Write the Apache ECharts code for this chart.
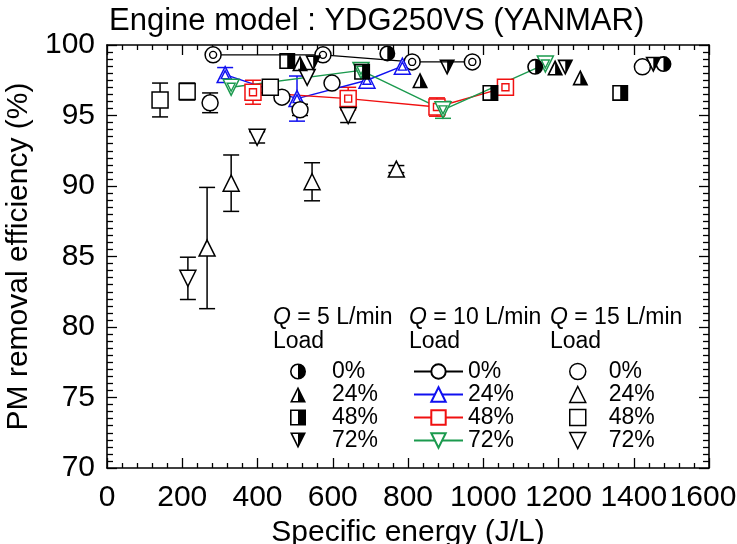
<!DOCTYPE html>
<html><head><meta charset="utf-8">
<script src="https://cdn.jsdelivr.net/npm/echarts@6/dist/echarts.min.js"></script>
<style>html,body{margin:0;padding:0;background:#fff}#c{width:737px;height:544px}</style>
</head><body><div id="c"></div>
<script>
// ---- tick labels ----
const xTicks = [0, 200, 400, 600, 800, 1000, 1200, 1400, 1600];
const yTicks = [70, 75, 80, 85, 90, 95, 100];
const loadLabels = ['0%', '24%', '48%', '72%'];

// ---- Q = 5 L/min (half-filled markers) ----
const q5_0  = [[745, 99.4], [1138, 98.45], [1479, 98.65]];
const q5_24 = [[513, 98.7], [832, 97.5], [1191, 98.4], [1258, 97.7]];
const q5_48 = [[479, 98.86], [678, 98.1], [1019, 96.6], [1364, 96.6]];
const q5_72 = [[548, 98.7], [904, 98.4], [1218, 98.4], [1452, 98.6]];

// ---- Q = 10 L/min (double markers with lines) ----
const q10_0  = [[282, 99.3], [574, 99.3], [811, 98.8], [971, 98.8]];
const q10_24 = [[314, 97.9], [505, 96.2], [691, 97.5], [785, 98.5]];
const q10_48 = [[388, 96.65], [641, 96.2], [877, 95.6], [1059, 97.0]];
const q10_72 = [[330, 97.0], [675, 98.2], [893, 95.4], [1165, 98.65]];
const q10_24_err = [0.5, 1.6, 0, 0];
const q10_48_err = [0.85, 0.8, 0.65, 0.35];
const q10_72_err = [0, 0, 0.6, 0];

// ---- Q = 15 L/min (hollow markers) ----
const q15_0  = [[274, 95.9], [465, 96.3], [513, 95.4], [598, 97.3], [1423, 98.45]];
const q15_24 = [[266, 85.6], [330, 90.2], [545, 90.3], [769, 91.2]];
const q15_48 = [[141, 96.1], [213, 96.7], [434, 97.0]];
const q15_72 = [[215, 83.45], [399, 93.45], [532, 97.7], [641, 95.0]];
const q15_0_err  = [0.7, 0, 0.4, 0, 0];
const q15_24_err = [4.3, 2.0, 1.35, 0.25];
const q15_48_err = [1.2, 0.6, 0];
const q15_72_err = [1.5, 0.4, 0, 0.5];

const FONT = "'Liberation Sans', Arial, Helvetica, sans-serif";
const BLUE = '#1010f0', RED = '#f01010', GREEN = '#1b9a4e';

// half-filled symbols (left hollow, right black)
const HALF_CIRCLE = 'path://M10,0A10,10,0,1,1,10,20A10,10,0,1,1,10,0ZM10,2A8,8,0,0,0,10,18Z';
const HALF_RECT = 'path://M0,0L20,0L20,20L0,20ZM2,2L2,18L10,18L10,2Z';
const HALF_TRI_UP = 'path://M10,0L20,20L0,20ZM10,4.47L3.24,18L10,18Z';
const HALF_TRI_DN = 'path://M0,0L20,0L10,20ZM3.24,2L10,15.53L10,2Z';
const TRI_DN = 'path://M0,0L20,0L10,20Z';

function errRender(color) {
  return function (params, api) {
    const x = api.value(0), y = api.value(1), e = api.value(2);
    const t = api.coord([x, y + e]), b = api.coord([x, y - e]);
    const w = 8;
    const st = { stroke: color, lineWidth: 1.5 };
    return { type: 'group', children: [
      { type: 'line', shape: { x1: t[0], y1: t[1], x2: b[0], y2: b[1] }, style: st },
      { type: 'line', shape: { x1: t[0] - w, y1: t[1], x2: t[0] + w, y2: t[1] }, style: st },
      { type: 'line', shape: { x1: b[0] - w, y1: b[1], x2: b[0] + w, y2: b[1] }, style: st }
    ]};
  };
}
function errSeries(pts, errs, color) {
  const d = [];
  pts.forEach((p, i) => { if (errs[i] > 0) d.push([p[0], p[1], errs[i]]); });
  return { type: 'custom', renderItem: errRender(color), data: d, z: 2, silent: true,
           encode: { x: 0, y: 1 } };
}

function halfSeries(name, data, symbol) {
  return { name, type: 'scatter', data, symbol, symbolSize: 16, z: 5,
           itemStyle: { color: '#000', borderWidth: 0, opacity: 1 } };
}
function hollowSeries(name, data, symbol) {
  return { name, type: 'scatter', data, symbol, symbolSize: 16, z: 4,
           itemStyle: { color: '#fff', borderColor: '#000', borderWidth: 1.5, opacity: 1 } };
}
function q10Series(name, data, symbol, rotate, color, innerSize) {
  return [
    { name, type: 'line', data, symbol, symbolSize: 16, symbolRotate: rotate || 0, z: 3,
      showSymbol: true, showAllSymbol: true,
      lineStyle: { color, width: 1.4 },
      itemStyle: { color: '#fff', borderColor: color, borderWidth: 1.5, opacity: 1 } },
    { name: name + ' inner', type: 'scatter', data, symbol, symbolSize: innerSize, symbolRotate: rotate || 0, z: 3,
      itemStyle: { color: '#fff', borderColor: color, borderWidth: 1.4, opacity: 1 } }
  ];
}

const axisCommon = {
  type: 'value',
  axisLine: { show: true, onZero: false, lineStyle: { color: '#000', width: 1.6 } },
  axisTick: { show: true, inside: true, length: 10, lineStyle: { color: '#000', width: 1.3 } },
  splitLine: { show: false }
};

const legendText = (pad) => ({ fontSize: 23, color: '#000', fontFamily: FONT, lineHeight: 20, padding: [0, 0, 0, pad] });
const xMax = xTicks[xTicks.length - 1];

const option = {
  animation: false,
  backgroundColor: '#fff',
  title: { text: 'Engine model : YDG250VS (YANMAR)', left: 104, top: 1,
           textStyle: { fontSize: 31, fontWeight: 'normal', color: '#000', fontFamily: FONT } },
  grid: { left: 107, right: 28, top: 45, bottom: 76, containLabel: false, outerBoundsMode: 'none' },
  xAxis: [
    Object.assign({}, axisCommon, {
      position: 'bottom', min: xTicks[0], max: xMax, interval: xTicks[1] - xTicks[0],
      minorTick: { show: true, splitNumber: 5, length: 5, lineStyle: { color: '#000', width: 1.3 } },
      axisLabel: { color: '#000', fontSize: 30, margin: 15, fontFamily: FONT,
        formatter: v => (v === xMax ? '{r|' + v + '}' : String(v)),
        rich: { r: { fontSize: 30, fontFamily: FONT, color: '#000', padding: [0, 12, 0, 0] } } },
      name: 'Specific energy (J/L)', nameLocation: 'middle', nameGap: 44,
      nameTextStyle: { fontSize: 30, color: '#000', fontFamily: FONT }
    }),
    Object.assign({}, axisCommon, {
      position: 'top', min: xTicks[0], max: xMax, interval: xTicks[1] - xTicks[0],
      minorTick: { show: true, splitNumber: 5, length: 5, lineStyle: { color: '#000', width: 1.3 } },
      axisLabel: { show: false }
    })
  ],
  yAxis: [
    Object.assign({}, axisCommon, {
      position: 'left', min: yTicks[0], max: yTicks[yTicks.length - 1], interval: yTicks[1] - yTicks[0],
      minorTick: { show: true, splitNumber: 10, length: 6, lineStyle: { color: '#000', width: 1.3 } },
      axisLabel: { color: '#000', fontSize: 30, margin: 12, fontFamily: FONT, formatter: v => String(v) },
      name: 'PM removal efficiency (%)', nameLocation: 'middle', nameGap: 66,
      nameTextStyle: { fontSize: 30, color: '#000', fontFamily: FONT }
    }),
    Object.assign({}, axisCommon, {
      position: 'right', min: yTicks[0], max: yTicks[yTicks.length - 1], interval: yTicks[1] - yTicks[0],
      minorTick: { show: true, splitNumber: 10, length: 6, lineStyle: { color: '#000', width: 1.3 } },
      axisLabel: { show: false }
    })
  ],
  legend: [
    { orient: 'vertical', left: 285, top: 355, itemWidth: 16, itemHeight: 16, itemGap: 0, selectedMode: false,
      data: ['Q5 0%', 'Q5 24%', 'Q5 48%', 'Q5 72%'], formatter: n => n.split(' ')[1],
      textStyle: legendText(21), itemStyle: { borderWidth: 0 } },
    { orient: 'vertical', left: 408, top: 355, itemWidth: 49, itemHeight: 18, itemGap: 0, selectedMode: false,
      data: ['Q10 0%', 'Q10 24%', 'Q10 48%', 'Q10 72%'], formatter: n => n.split(' ')[1],
      textStyle: legendText(0) },
    { orient: 'vertical', left: 564, top: 355, itemWidth: 16, itemHeight: 16, itemGap: 0, selectedMode: false,
      data: ['Q15 0%', 'Q15 24%', 'Q15 48%', 'Q15 72%'], formatter: n => n.split(' ')[1],
      textStyle: legendText(18), itemStyle: { borderWidth: 1.5, borderColor: '#000' } }
  ],
  graphic: [
    { type: 'text', x: 273, y: 318, style: { text: '{i|Q} = 5 L/min', font: '23px ' + FONT, fill: '#000', verticalAlign: 'middle',
      rich: { i: { fontStyle: 'italic', fontSize: 23, fontFamily: FONT, fill: '#000' } } } },
    { type: 'text', x: 409, y: 318, style: { text: '{i|Q} = 10 L/min', font: '23px ' + FONT, fill: '#000', verticalAlign: 'middle',
      rich: { i: { fontStyle: 'italic', fontSize: 23, fontFamily: FONT, fill: '#000' } } } },
    { type: 'text', x: 550, y: 318, style: { text: '{i|Q} = 15 L/min', font: '23px ' + FONT, fill: '#000', verticalAlign: 'middle',
      rich: { i: { fontStyle: 'italic', fontSize: 23, fontFamily: FONT, fill: '#000' } } } },
    { type: 'text', x: 273, y: 342, style: { text: 'Load', font: '23px ' + FONT, fill: '#000', verticalAlign: 'middle' } },
    { type: 'text', x: 409, y: 342, style: { text: 'Load', font: '23px ' + FONT, fill: '#000', verticalAlign: 'middle' } },
    { type: 'text', x: 550, y: 342, style: { text: 'Load', font: '23px ' + FONT, fill: '#000', verticalAlign: 'middle' } }
  ],
  series: [
    errSeries(q15_0, q15_0_err, '#000'),
    errSeries(q15_24, q15_24_err, '#000'),
    errSeries(q15_48, q15_48_err, '#000'),
    errSeries(q15_72, q15_72_err, '#000'),
    errSeries(q10_24, q10_24_err, BLUE),
    errSeries(q10_48, q10_48_err, RED),
    errSeries(q10_72, q10_72_err, GREEN),
    hollowSeries('Q15 0%', q15_0, 'circle'),
    hollowSeries('Q15 24%', q15_24, 'triangle'),
    hollowSeries('Q15 48%', q15_48, 'rect'),
    hollowSeries('Q15 72%', q15_72, TRI_DN),
    ...q10Series('Q10 0%', q10_0, 'circle', 0, '#000', 7),
    ...q10Series('Q10 24%', q10_24, 'triangle', 0, BLUE, 8),
    ...q10Series('Q10 48%', q10_48, 'rect', 0, RED, 7),
    ...q10Series('Q10 72%', q10_72, 'triangle', 180, GREEN, 8),
    halfSeries('Q5 0%', q5_0, HALF_CIRCLE),
    halfSeries('Q5 24%', q5_24, HALF_TRI_UP),
    halfSeries('Q5 48%', q5_48, HALF_RECT),
    halfSeries('Q5 72%', q5_72, HALF_TRI_DN)
  ]
};
const chart = echarts.init(document.getElementById('c'), null, { renderer: 'canvas' });
chart.setOption(option);
</script></body></html>
